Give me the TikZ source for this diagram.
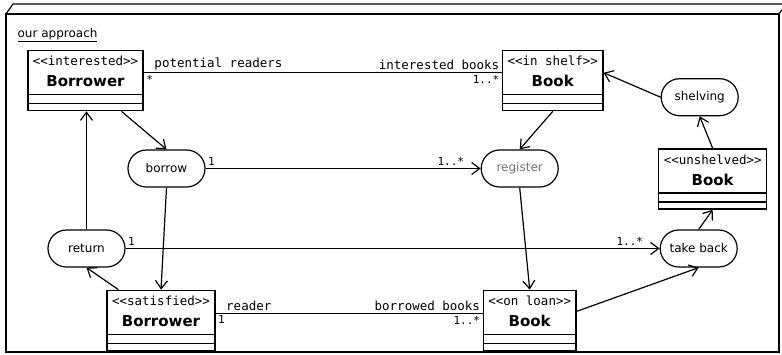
\documentclass[tikz,border=0pt]{standalone}
\usepackage{fontspec}
\setmainfont{DejaVu Sans}
\setmonofont{DejaVu Sans Mono}
\usetikzlibrary{positioning,shapes.misc,arrows.meta}

\newcommand{\clsname}[1]{{\normalfont\bfseries\fontsize{15}{18}\selectfont #1}}
\newcommand{\umlclass}[2]{\rule{0pt}{15pt}<<#1>>\\\clsname{#2}\rule[-24pt]{0pt}{24pt}}

\begin{document}
\begin{tikzpicture}[x=1pt, y=-1pt, line width=1.2pt,
    >={Straight Barb[length=8pt,width=12pt]},
    cls/.style={draw, line width=1.4pt, inner xsep=5pt, inner ysep=0pt, align=center,
      font=\fontsize{12.5}{21}\ttfamily,
      path picture={
        \draw ([yshift=16pt]path picture bounding box.south west) -- ([yshift=16pt]path picture bounding box.south east);
        \draw ([yshift=7pt]path picture bounding box.south west) -- ([yshift=7pt]path picture bounding box.south east);
      }},
    act/.style={draw, rounded rectangle, minimum width=81pt, minimum height=37pt,
      inner sep=2pt, font=\fontsize{12}{14}\selectfont},
    role/.style={font=\fontsize{12.5}{14}\ttfamily, inner sep=2pt},
    mult/.style={font=\fontsize{11}{13}\ttfamily, inner sep=2pt}]

  \useasboundingbox (0,0) rectangle (782,354);

  % Frame
  \draw (6,352) -- (6,14) -- (779,14) -- (779,352) -- cycle;
  \draw (6,14) -- (13,4) -- (800,4);
  \draw (779,14) -- (786,4);
  \node[anchor=base west, inner sep=0pt, font=\fontsize{12}{14}\selectfont] (title) at (17,37) {\underline{our approach}};

  % Nodes

  \node[cls, anchor=north] (ib) at (85.5,50) {\umlclass{interested}{Borrower}};
  \node[cls, right=358pt of ib] (sb) {\umlclass{in shelf}{Book}};
  \node[act, below=38pt of ib, xshift=81pt] (borrow) {borrow};
  \node[act, right=275pt of borrow, text=black!55] (register) {register};
  \node[act, right=57pt of sb, yshift=-16.5pt] (shelving) {shelving};
  \node[cls, below=32pt of shelving, xshift=13pt] (ub) {\umlclass{unshelved}{Book}};
  \node[act, below=118pt of ib, xshift=1pt] (return) {return};
  \node[act, right=534pt of return] (takeback) {take back};
  \node[cls, below=22pt of return, xshift=74.5pt] (satb) {\umlclass{satisfied}{Borrower}};
  \node[cls, right=267pt of satb] (lb) {\umlclass{on loan}{Book}};

  % Edges

  \draw ([yshift=8pt]ib.east) -- ([yshift=8pt]sb.west)
    node[role, pos=0, above right, xshift=8pt] {potential readers}
    node[mult, pos=0, below right] {*}
    node[role, pos=1, above left] {interested books}
    node[mult, pos=1, below left] {1..*};
  \draw ([yshift=7pt]satb.east) -- ([yshift=7pt]lb.west)
    node[role, pos=0, above right, xshift=8pt] {reader}
    node[mult, pos=0, below right] {1}
    node[role, pos=1, above left] {borrowed books}
    node[mult, pos=1, below left] {1..*};

  \draw[->] ([xshift=36pt]ib.south) -- (borrow.north);
  \draw[->] (return.north) -- (return.north |- ib.south);
  \draw[->] (borrow.south) -- (satb.north);
  \draw[->] ([xshift=12pt]satb.north west) -- (return.south);
  \draw[->] (borrow.east) -- (register.west)
    node[mult, pos=0, above right] {1}
    node[mult, pos=1, above left, xshift=-14pt] {1..*};
  \draw[->] (sb.south) -- (register.north);
  \draw[->] (register.south) -- (lb.north);
  \draw[->] (return.east) -- (takeback.west)
    node[mult, pos=0, above right] {1}
    node[mult, pos=1, above left, xshift=-14pt] {1..*};
  \draw[->] ([yshift=9pt]lb.east) -- (takeback.south);
  \draw[->] (takeback.north) -- (ub.south);
  \draw[->] (ub.north) -- (shelving.south);
  \draw[->] (shelving.west) -- ([yshift=8pt]sb.east);

\end{tikzpicture}
\end{document}
